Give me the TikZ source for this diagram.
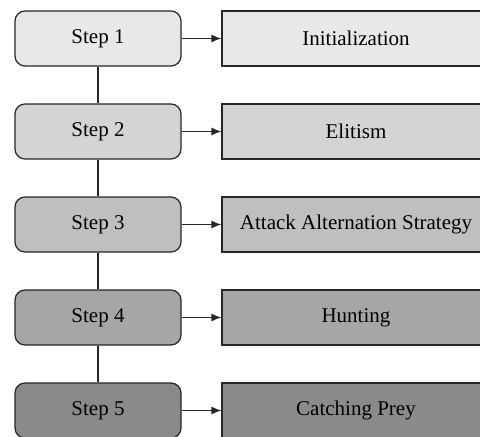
\documentclass[tikz,border=0pt]{standalone}
\usepackage{fontspec}
\setmainfont{Liberation Serif}
\usetikzlibrary{arrows.meta}

\definecolor{shadeA}{gray}{0.91}
\definecolor{shadeB}{gray}{0.83}
\definecolor{shadeC}{gray}{0.75}
\definecolor{shadeD}{gray}{0.65}
\definecolor{shadeE}{gray}{0.54}

\tikzset{
  stepbox/.style={draw=black!85, line width=1.2pt, rounded corners=10pt,
    minimum width=166pt, minimum height=55pt, inner sep=0pt,
    font=\fontsize{21}{24}\selectfont},
  phasebox/.style={draw=black!85, line width=1.2pt,
    minimum width=268pt, minimum height=55pt, inner sep=0pt,
    font=\fontsize{21}{24}\selectfont},
  link/.style={black!85, line width=1.2pt},
  feed/.style={black!85, line width=1.2pt, -{Latex[length=10pt,width=8pt]}}
}

\begin{document}
\begin{tikzpicture}[x=1pt,y=-1pt]
\useasboundingbox (0,0) rectangle (480,437);
\node[stepbox, fill=shadeA] (s1) at (98,38.5) {Step 1};
\node[phasebox, fill=shadeA] (p1) at (356,38.5) {Initialization};
\node[stepbox, fill=shadeB] (s2) at (98,131.5) {Step 2};
\node[phasebox, fill=shadeB] (p2) at (356,131.5) {Elitism};
\node[stepbox, fill=shadeC] (s3) at (98,224.5) {Step 3};
\node[phasebox, fill=shadeC] (p3) at (356,224.5) {Attack Alternation Strategy};
\node[stepbox, fill=shadeD] (s4) at (98,317.5) {Step 4};
\node[phasebox, fill=shadeD] (p4) at (356,317.5) {Hunting};
\node[stepbox, fill=shadeE] (s5) at (98,410.5) {Step 5};
\node[phasebox, fill=shadeE] (p5) at (356,410.5) {Catching Prey};
% chain of steps
\draw[link] (s1) -- (s2);
\draw[link] (s2) -- (s3);
\draw[link] (s3) -- (s4);
\draw[link] (s4) -- (s5);
% step to phase
\draw[feed] (s1) -- (p1);
\draw[feed] (s2) -- (p2);
\draw[feed] (s3) -- (p3);
\draw[feed] (s4) -- (p4);
\draw[feed] (s5) -- (p5);
\end{tikzpicture}
\end{document}
